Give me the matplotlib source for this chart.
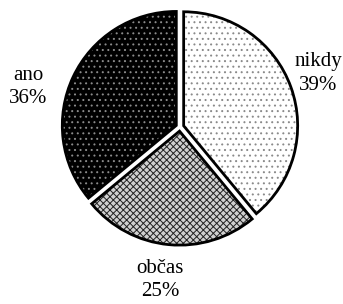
import numpy as np
import matplotlib
matplotlib.use('Agg')
from matplotlib import pyplot as plt

# pie data, clockwise from 12 o'clock
labels = ['nikdy', 'občas', 'ano']
shares = [39, 25, 36]
pct_text = ['39%', '25%', '36%']

plt.rcParams['font.family'] = ['Liberation Serif', 'DejaVu Serif']
plt.rcParams['hatch.linewidth'] = 0.7

fig = plt.figure(figsize=(3.43, 3.04), dpi=100)
ax = fig.add_axes([0.109, 0.113, 0.831, 0.9375])

explode = [0.035, 0.035, 0.035]
faces = ['white', '#d0d0d0', 'black']
hatch_cols = ['#8a8a8a', '#222222', '#8a8a8a']
hatches = ['...', 'xxxxx', '...']
# label placement: radius and angle nudge (degrees)
lab_r = [1.30, 1.35, 1.375]
lab_da = [1.4, -2.0, 10.5]

# filled, hatched wedges
wedges, _ = ax.pie(shares, startangle=90, counterclock=False, explode=explode,
                   wedgeprops=dict(linewidth=0))
for w, fc, hc, h in zip(wedges, faces, hatch_cols, hatches):
    w.set_facecolor(fc)
    w.set_edgecolor(hc)
    w.set_hatch(h)
    w.set_linewidth(0)

# black outlines on top
ax.pie(shares, startangle=90, counterclock=False, explode=explode,
       wedgeprops=dict(fill=False, edgecolor='black', linewidth=2))

for w, l, p, r, da in zip(wedges, labels, pct_text, lab_r, lab_da):
    ang = np.deg2rad((w.theta1 + w.theta2) / 2 + da)
    ax.text(r * np.cos(ang), r * np.sin(ang), l + '\n' + p, fontsize=15,
            ha='center', va='center', linespacing=1.3)
ax.set_aspect('equal')

plt.savefig('out.png', dpi=100)
